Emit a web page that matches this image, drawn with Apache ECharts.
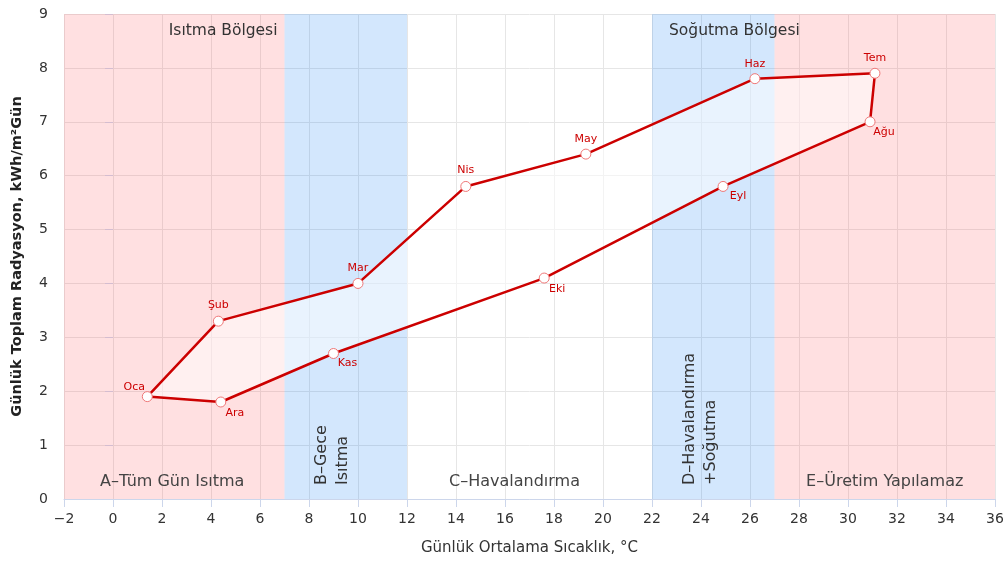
<!DOCTYPE html>
<html>
<head>
<meta charset="utf-8">
<script src="https://cdn.jsdelivr.net/npm/echarts@6/dist/echarts.min.js"></script>
<style>html,body{margin:0;padding:0;background:#fff}#c{width:1007px;height:561px}</style>
</head>
<body>
<div id="c"></div>
<script>
const months = ['Oca','Şub','Mar','Nis','May','Haz','Tem','Ağu','Eyl','Eki','Kas','Ara'];
const temps = [1.4, 4.3, 10.0, 14.4, 19.3, 26.2, 31.1, 30.9, 24.9, 17.6, 9.0, 4.4];
const radiation = [1.9, 3.3, 4.0, 5.8, 6.4, 7.8, 7.9, 7.0, 5.8, 4.1, 2.7, 1.8];

const zoneNames = ['A–Tüm Gün Isıtma', 'B–Gece\nIsıtma', 'C–Havalandırma', 'D–Havalandırma\n+Soğutma', 'E–Üretim Yapılamaz'];
const zoneStart = [-2, 7, 12, 22, 27];
const zoneEnd = [7, 12, 22, 27, 36];
const zoneKind = ['heat', 'night', 'none', 'cool', 'heat'];

const regionNames = ['Isıtma Bölgesi', 'Soğutma Bölgesi'];
const regionStart = [-2, 22];
const regionEnd = [7, 27];

const FONT = '"DejaVu Sans", Verdana, sans-serif';
const kindColor = {
  heat: 'rgba(255,60,70,0.16)',
  night: 'rgba(20,130,245,0.19)',
  cool: 'rgba(20,130,245,0.19)',
  none: 'rgba(255,255,255,0)'
};
const zoneLabelShift = [[-2, 0], [0, -13], [-15, 0], [0, -13], [0, 0]];

// label placement relative to each point [dx, dy]
const labelOffsets = [[-13,-9],[0,-16],[0,-15],[0,-16],[0,-15],[0,-15],[0,-15],[14,10],[15,10],[13,11],[14,10],[14,11]];

const pts = months.map((m, i) => [temps[i], radiation[i]]);

const lineData = months.map((m, i) => ({
  value: [temps[i], radiation[i]],
  name: m,
  label: { show: true, formatter: m, position: 'inside', offset: labelOffsets[i] }
}));
lineData.push({ value: [temps[0], radiation[0]], symbol: 'none', label: { show: false } });

const zoneAreas = zoneNames.map((n, i) => {
  const vertical = n.indexOf('\n') >= 0;
  const lbl = vertical ? {
    show: true, formatter: n, position: 'insideBottom', rotate: 90,
    align: 'left', verticalAlign: 'middle', distance: 14, offset: zoneLabelShift[i],
    fontSize: 16, lineHeight: 21, color: '#333', fontFamily: FONT
  } : {
    show: true, formatter: n, position: 'insideBottom', distance: 9, offset: zoneLabelShift[i],
    fontSize: 16, color: '#444', fontFamily: FONT
  };
  return [
    { xAxis: zoneStart[i], yAxis: 0, itemStyle: { color: kindColor[zoneKind[i]] }, label: lbl },
    { xAxis: zoneEnd[i], yAxis: 9 }
  ];
});

const regionAreas = regionNames.map((n, i) => [
  { xAxis: regionStart[i], yAxis: 0, itemStyle: { color: 'rgba(0,0,0,0)' },
    label: i === 0 ? { show: true, formatter: n, position: 'insideTopRight', distance: 7, offset: [0, 2], fontSize: 15.5, color: '#333', fontFamily: FONT }
                   : { show: true, formatter: n, position: 'insideTopLeft', distance: 7, offset: [10, 2], fontSize: 15.5, color: '#333', fontFamily: FONT } },
  { xAxis: regionEnd[i], yAxis: 9 }
]);

const chart = echarts.init(document.getElementById('c'));
chart.setOption({
  animation: false,
  textStyle: { fontFamily: FONT },
  grid: { left: 64, right: 12, top: 14, bottom: 62 },
  xAxis: {
    type: 'value', min: -2, max: 36, interval: 2,
    name: 'Günlük Ortalama Sıcaklık, °C', nameLocation: 'middle', nameGap: 42,
    nameTextStyle: { fontSize: 15, color: '#333', fontFamily: FONT },
    axisLine: { show: true, lineStyle: { color: '#ccd6eb', width: 1 } },
    axisTick: { show: true, length: 8, lineStyle: { color: '#ccd6eb' } },
    axisLabel: { fontSize: 14, color: '#333', margin: 13, fontFamily: FONT,
      formatter: v => String(v).replace('-', '−') },
    splitLine: { show: true, lineStyle: { color: '#e6e6e6' } }
  },
  yAxis: {
    type: 'value', min: 0, max: 9, interval: 1,
    name: 'Günlük Toplam Radyasyon, kWh/m²Gün', nameLocation: 'middle', nameGap: 39,
    nameTextStyle: { fontSize: 14.5, color: '#222', fontWeight: 'bold', fontFamily: FONT },
    axisLine: { show: false },
    axisTick: { show: true, length: 8, lineStyle: { color: '#ccd6eb' } },
    axisLabel: { fontSize: 14, color: '#333', margin: 16, fontFamily: FONT },
    splitLine: { show: true, lineStyle: { color: '#e6e6e6' } }
  },
  series: [
    {
      type: 'line', data: [], z: 1, silent: true,
      markArea: { silent: true, data: zoneAreas.concat(regionAreas) }
    },
    {
      type: 'custom', z: 2, silent: true,
      data: [0],
      renderItem: function (params, api) {
        const points = pts.map(p => api.coord(p));
        return { type: 'polygon', shape: { points: points }, style: { fill: 'rgba(255,255,255,0.5)', stroke: 'none' } };
      }
    },
    {
      type: 'line', z: 3, data: lineData,
      symbol: 'circle', symbolSize: 10, showAllSymbol: true,
      lineStyle: { color: '#cc0000', width: 2.5 },
      itemStyle: { color: '#ffffff', borderColor: '#e77', borderWidth: 1 },
      label: { color: '#cc0000', fontSize: 11, fontFamily: FONT },
      emphasis: { disabled: true }
    }
  ]
});
</script>
</body>
</html>
